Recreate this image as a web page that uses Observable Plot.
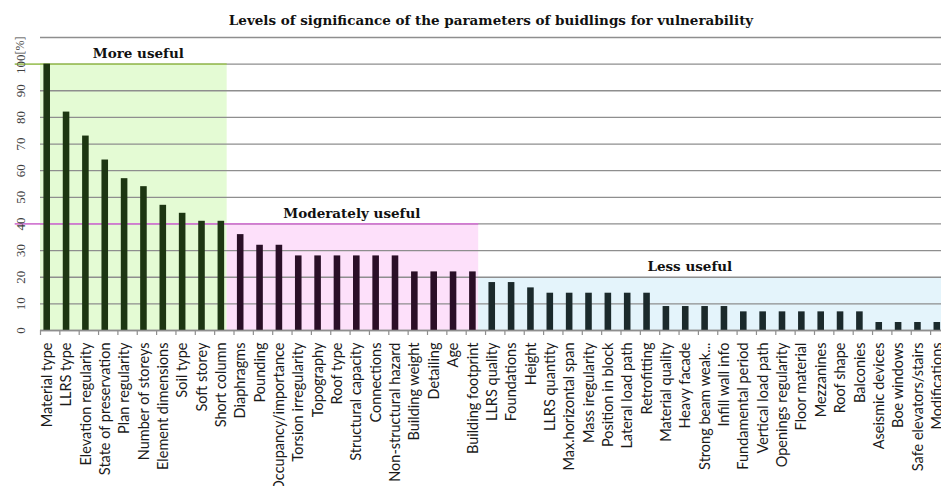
<!DOCTYPE html>
<html>
<head>
<meta charset="utf-8">
<script src="https://cdn.jsdelivr.net/npm/d3@7"></script>
<script src="https://cdn.jsdelivr.net/npm/@observablehq/plot@0.6"></script>
<style>
  html, body { margin: 0; padding: 0; background: #fff; overflow: hidden; }
  #chart svg { display: block; }
</style>
</head>
<body>
<div id="chart"></div>
<script>
// ---- data ----
const title = "Levels of significance of the parameters of buidlings for vulnerability";
const yUnit = "[%]";

const moreNames = ["Material type", "LLRS type", "Elevation regularity", "State of preservation",
  "Plan regularity", "Number of storeys", "Element dimensions", "Soil type", "Soft storey", "Short column"];
const moreValues = [100, 82, 73, 64, 57, 54, 47, 44, 41, 41];

const modNames = ["Diaphragms", "Pounding", "Occupancy/importance", "Torsion irregularity", "Topography",
  "Roof type", "Structural capacity", "Connections", "Non-structural hazard", "Building weight",
  "Detailing", "Age", "Building footprint"];
const modValues = [36, 32, 32, 28, 28, 28, 28, 28, 28, 22, 22, 22, 22];

const lessNames = ["LLRS quality", "Foundations", "Height", "LLRS quantity", "Max.horizontal span",
  "Mass iregularity", "Position in block", "Lateral load path", "Retrofitting", "Material quality",
  "Heavy facade", "Strong beam weak...", "Infill wall info", "Fundamental period", "Vertical load path",
  "Openings regularity", "Floor material", "Mezzanines", "Roof shape", "Balconies", "Aseismic devices",
  "Boe windows", "Safe elevators/stairs", "Modifications"];
const lessValues = [18, 18, 16, 14, 14, 14, 14, 14, 14, 9, 9, 9, 9, 7, 7, 7, 7, 7, 7, 7, 3, 3, 3, 3];

const groupLabels = ["More useful", "Moderately useful", "Less useful"];
const groupThresholds = [100, 40, 20];
const yTickValues = [0, 10, 20, 30, 40, 50, 60, 70, 80, 90, 100];
const gridValues = [0, 10, 20, 30, 40, 50, 60, 70, 80, 90, 100, 110];

// ---- styles ----
const barColors = ["#1d3612", "#2a0f27", "#1b2a2c"];
const regionColors = ["#e4fbd4", "#fde0fa", "#e4f4fb"];
const lineColors = ["#a2c563", "#d27ad2", null];
const labelDxPx = [4, -5, -25];
const serifBold = "'DejaVu Serif', serif";

// ---- build table ----
const groupsRaw = [[moreNames, moreValues], [modNames, modValues], [lessNames, lessValues]];
const rows = [];
const groups = [];
let idx = 0;
groupsRaw.forEach(([names, values], g) => {
  const first = idx;
  names.forEach((n, k) => { rows.push({name: n, value: values[k], group: g, i: idx}); idx++; });
  groups.push({g, label: groupLabels[g], threshold: groupThresholds[g], first, last: idx - 1});
});

const W = 941, H = 486;
const mL = 40, mR = 0, mT = 37, mB = 156;
const step = 19.35, barOffset = 6.7;     // pixel geometry of the category axis
const x0 = -barOffset / step;            // domain start (frame left)
const x1 = x0 + (W - mL - mR) / step;    // domain end (frame right)
const half = 0.17;                       // half bar width in category units
const edge = 0.3;                        // region boundary after last bar

const bound = (gr) => gr.last + edge;
const startOf = (gr) => gr.first === 0 ? x0 : gr.first - 1 + edge;

const chart = Plot.plot({
  width: W, height: H,
  marginLeft: mL, marginRight: mR, marginTop: mT, marginBottom: mB,
  style: {fontFamily: "Lato, sans-serif", background: "white", overflow: "hidden"},
  x: {type: "linear", domain: [x0, x1], axis: null},
  y: {domain: [0, 110], axis: null},
  marks: [
    // background regions
    Plot.rect(groups, {
      x1: startOf,
      x2: d => d.g === 2 ? x1 : bound(d),
      y1: 0, y2: "threshold",
      fill: d => regionColors[d.g]
    }),
    // gridlines
    Plot.ruleY(gridValues, {stroke: "#8e8e8e", strokeWidth: 1.3}),
    // threshold lines
    Plot.ruleY(groups.filter(d => lineColors[d.g]), {
      y: "threshold", x2: bound, insetLeft: -32,
      stroke: d => lineColors[d.g], strokeWidth: 1.8
    }),
    // bars
    Plot.rect(rows, {
      x1: d => d.i - half, x2: d => d.i + half,
      y1: 0, y2: "value",
      fill: d => barColors[d.group]
    }),
    // baseline
    Plot.ruleY([0], {stroke: "#8e8e8e", strokeWidth: 1.3}),
    // category tick marks
    Plot.ruleX(rows, {x: d => d.i + x0, y1: 0, y2: 0, insetBottom: -5, stroke: "#8e8e8e", strokeWidth: 1.2}),
    // category labels
    Plot.text(rows, {
      x: "i", y: 0, text: "name", rotate: -90,
      textAnchor: "end", lineAnchor: "middle", dy: 12,
      fontSize: 14.5, fill: "#1a1a1a", fontFamily: "Lato, sans-serif"
    }),
    // y tick labels
    Plot.text(yTickValues, {
      x: () => x0, y: d => d, text: d => String(d), dx: -20,
      rotate: -90, textAnchor: "middle", lineAnchor: "middle",
      fontSize: 13, fill: "#404040", fontFamily: "'Liberation Serif', serif"
    }),
    // unit label
    Plot.text([yUnit], {
      x: () => x0, y: () => 110, dx: -20, dy: 8, rotate: -90,
      textAnchor: "middle", lineAnchor: "middle",
      fontSize: 12, fill: "#404040", fontFamily: "'Liberation Serif', serif"
    }),
    // group labels
    Plot.text(groups, {
      x: d => (d.first + d.last) / 2 + labelDxPx[d.g] / step, y: "threshold", text: "label",
      dy: -10.5,
      fontSize: 13.5, fontWeight: "bold", fill: "#111", fontFamily: serifBold
    }),
    // title
    Plot.text([title], {
      frameAnchor: "top", dy: -17, lineAnchor: "middle",
      fontSize: 13.5, fontWeight: "bold", fill: "#111", fontFamily: serifBold
    })
  ]
});
document.getElementById("chart").appendChild(chart);
</script>
</body>
</html>
